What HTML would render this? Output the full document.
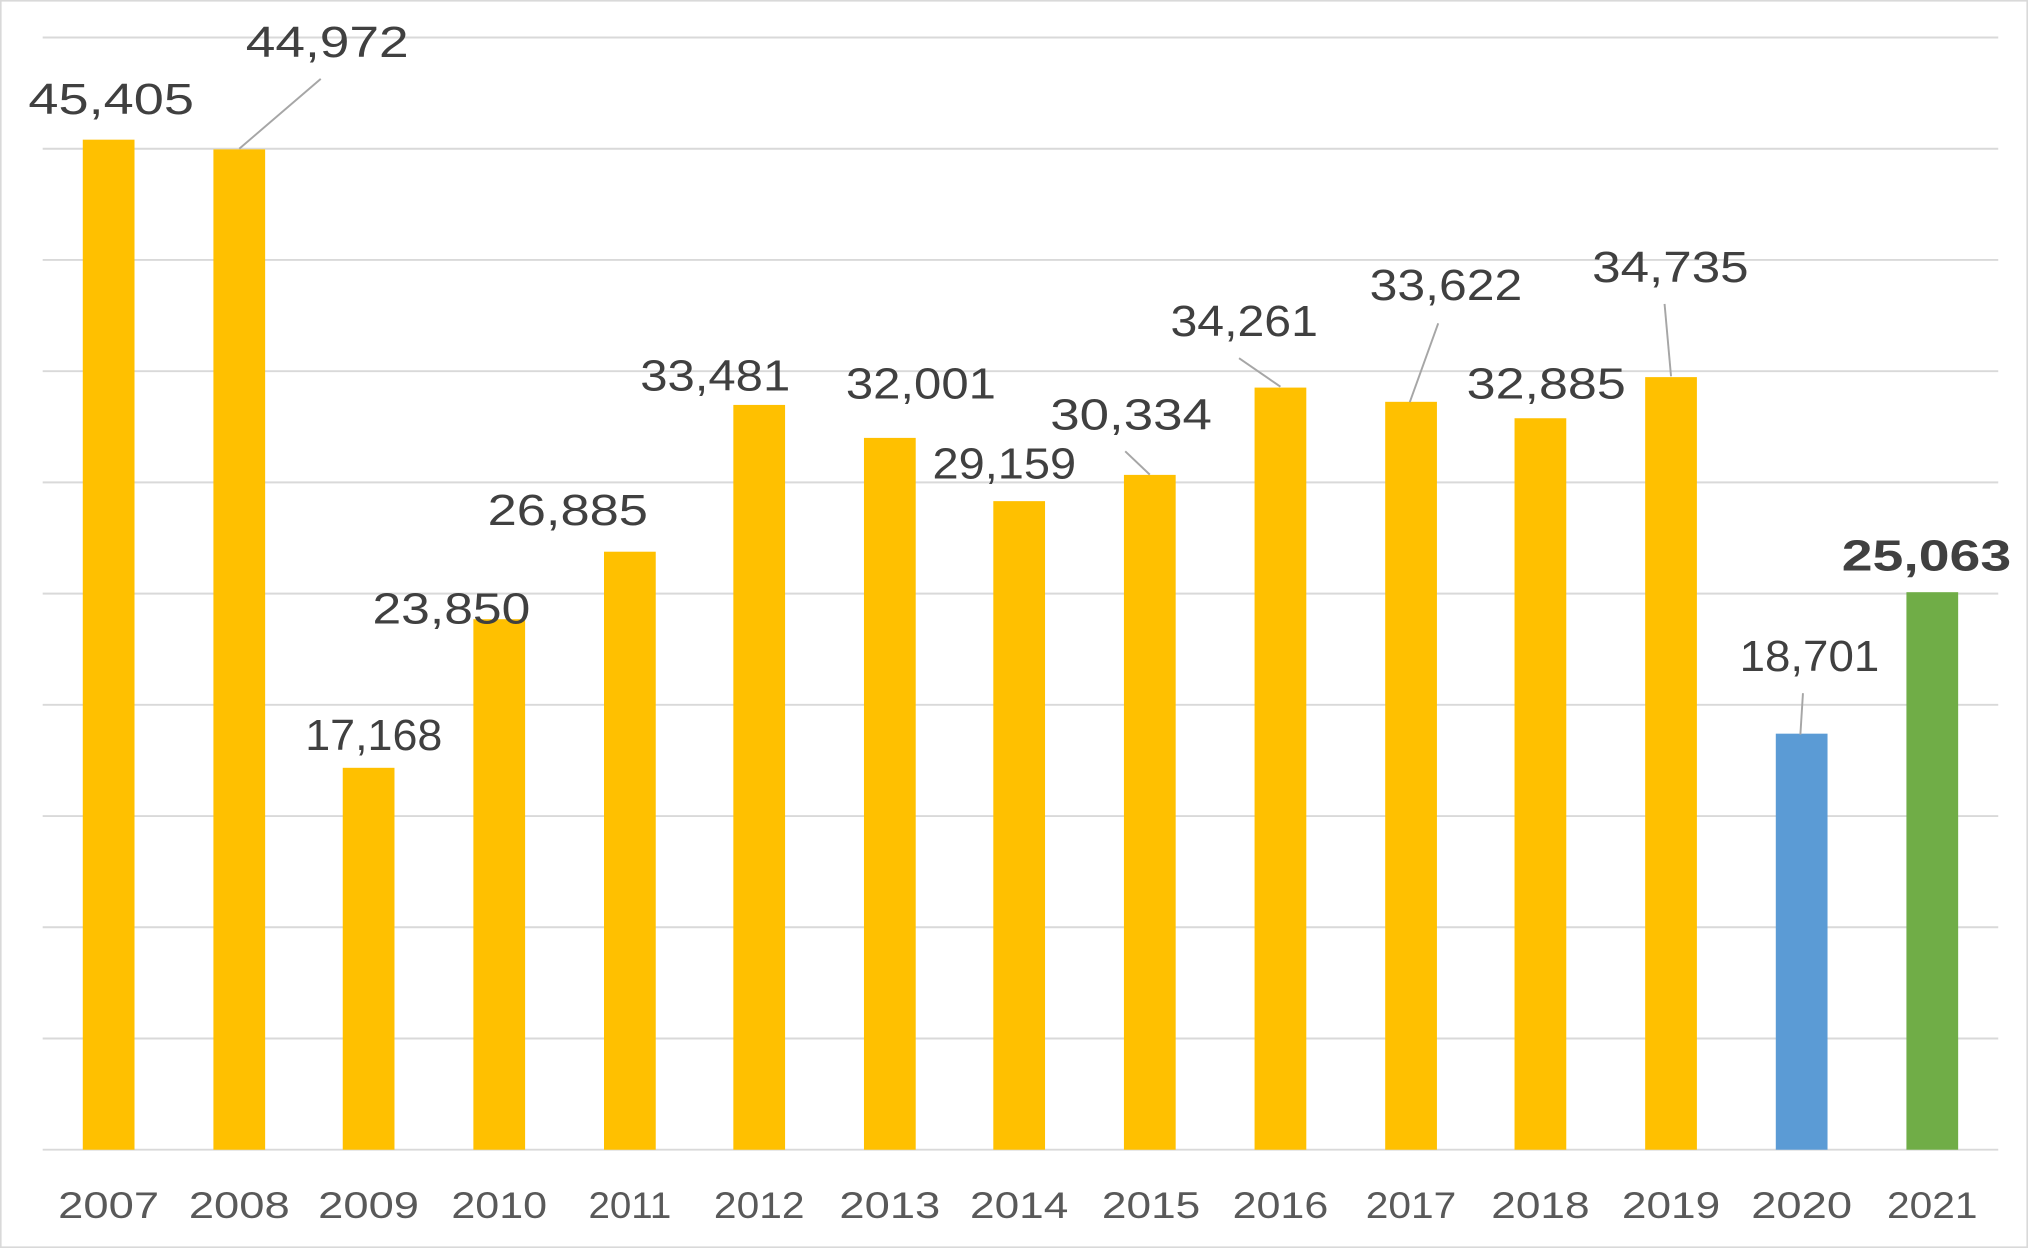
<!DOCTYPE html>
<html><head><meta charset="utf-8"><style>
html,body{margin:0;padding:0;background:#fff;}
svg{display:block;}
text{font-family:"Liberation Sans",sans-serif;}
</style></head><body>
<svg width="2028" height="1248" viewBox="0 0 1568 965" preserveAspectRatio="none" xmlns="http://www.w3.org/2000/svg">
<rect x="0.5" y="0.5" width="1567" height="964" fill="#fff" stroke="#d9d9d9" stroke-width="1.5"/>
<g stroke="#d9d9d9" stroke-width="1.5">
<line x1="33" x2="1545" y1="29" y2="29"/><line x1="33" x2="1545" y1="115" y2="115"/>
<line x1="33" x2="1545" y1="201" y2="201"/><line x1="33" x2="1545" y1="287" y2="287"/>
<line x1="33" x2="1545" y1="373" y2="373"/><line x1="33" x2="1545" y1="459" y2="459"/>
<line x1="33" x2="1545" y1="545" y2="545"/><line x1="33" x2="1545" y1="631" y2="631"/>
<line x1="33" x2="1545" y1="717" y2="717"/><line x1="33" x2="1545" y1="803" y2="803"/>
<line x1="33" x2="1545" y1="889" y2="889"/>
</g>
<g fill="#FFC000">
<rect x="64" y="108" width="40" height="781"/>
<rect x="165" y="115.5" width="40" height="773.5"/>
<rect x="265" y="593.7" width="40" height="295.3"/>
<rect x="366" y="478.8" width="40" height="410.2"/>
<rect x="467" y="426.6" width="40" height="462.4"/>
<rect x="567" y="313.1" width="40" height="575.9"/>
<rect x="668" y="338.6" width="40" height="550.4"/>
<rect x="768" y="387.5" width="40" height="501.5"/>
<rect x="869" y="367.2" width="40" height="521.8"/>
<rect x="970" y="299.7" width="40" height="589.3"/>
<rect x="1071" y="310.7" width="40" height="578.3"/>
<rect x="1171" y="323.4" width="40" height="565.6"/>
<rect x="1272" y="291.6" width="40" height="597.4"/>
</g>
<rect x="1373" y="567.3" width="40" height="321.7" fill="#5B9BD5"/>
<rect x="1474" y="457.9" width="40" height="431.1" fill="#70AD47"/>
<g stroke="#a6a6a6" stroke-width="1.5">
<line x1="248" y1="61" x2="185" y2="115"/>
<line x1="870" y1="349" x2="889" y2="367"/>
<line x1="958" y1="277" x2="990" y2="299"/>
<line x1="1112" y1="250" x2="1090" y2="311"/>
<line x1="1287" y1="235" x2="1292" y2="291"/>
<line x1="1394" y1="536" x2="1392" y2="568"/>
</g>
<g fill="#404040" font-size="34" lengthAdjust="spacingAndGlyphs">
<text x="22" y="88" textLength="128" lengthAdjust="spacingAndGlyphs">45,405</text>
<text x="190" y="44" textLength="126" lengthAdjust="spacingAndGlyphs">44,972</text>
<text x="236" y="580" textLength="106" lengthAdjust="spacingAndGlyphs">17,168</text>
<text x="288" y="482" textLength="122" lengthAdjust="spacingAndGlyphs">23,850</text>
<text x="377" y="406" textLength="124" lengthAdjust="spacingAndGlyphs">26,885</text>
<text x="495" y="302" textLength="116" lengthAdjust="spacingAndGlyphs">33,481</text>
<text x="654" y="308" textLength="116" lengthAdjust="spacingAndGlyphs">32,001</text>
<text x="721" y="370" textLength="111" lengthAdjust="spacingAndGlyphs">29,159</text>
<text x="812" y="332" textLength="125" lengthAdjust="spacingAndGlyphs">30,334</text>
<text x="905" y="260" textLength="114" lengthAdjust="spacingAndGlyphs">34,261</text>
<text x="1059" y="232" textLength="118" lengthAdjust="spacingAndGlyphs">33,622</text>
<text x="1134" y="308" textLength="123" lengthAdjust="spacingAndGlyphs">32,885</text>
<text x="1231" y="218" textLength="121" lengthAdjust="spacingAndGlyphs">34,735</text>
<text x="1345" y="519" textLength="108" lengthAdjust="spacingAndGlyphs">18,701</text>
<text x="1424" y="441" font-weight="bold" textLength="131" lengthAdjust="spacingAndGlyphs">25,063</text>
</g>
<g fill="#595959" font-size="29">
<text x="45" y="942" textLength="78" lengthAdjust="spacingAndGlyphs">2007</text>
<text x="146" y="942" textLength="78" lengthAdjust="spacingAndGlyphs">2008</text>
<text x="246" y="942" textLength="78" lengthAdjust="spacingAndGlyphs">2009</text>
<text x="349" y="942" textLength="74" lengthAdjust="spacingAndGlyphs">2010</text>
<text x="455" y="942" textLength="64" lengthAdjust="spacingAndGlyphs">2011</text>
<text x="552" y="942" textLength="70" lengthAdjust="spacingAndGlyphs">2012</text>
<text x="649" y="942" textLength="78" lengthAdjust="spacingAndGlyphs">2013</text>
<text x="750" y="942" textLength="76" lengthAdjust="spacingAndGlyphs">2014</text>
<text x="852" y="942" textLength="76" lengthAdjust="spacingAndGlyphs">2015</text>
<text x="953" y="942" textLength="74" lengthAdjust="spacingAndGlyphs">2016</text>
<text x="1056" y="942" textLength="70" lengthAdjust="spacingAndGlyphs">2017</text>
<text x="1153" y="942" textLength="76" lengthAdjust="spacingAndGlyphs">2018</text>
<text x="1254" y="942" textLength="76" lengthAdjust="spacingAndGlyphs">2019</text>
<text x="1354" y="942" textLength="78" lengthAdjust="spacingAndGlyphs">2020</text>
<text x="1459" y="942" textLength="70" lengthAdjust="spacingAndGlyphs">2021</text>
</g>
</svg>
</body></html>
